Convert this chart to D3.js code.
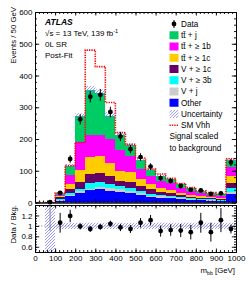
<!DOCTYPE html>
<html><head><meta charset="utf-8">
<script src="https://cdn.jsdelivr.net/npm/d3@7"></script>
<style>
html,body{margin:0;padding:0;background:#fff;}
svg{display:block;font-family:"Liberation Sans",Arial,Helvetica,sans-serif;}
</style></head>
<body>
<svg id="c" width="249" height="281"></svg>
<script>
// ---- data ----
const binLo = [0,50,100,150,200,250,300,350,400,450,500,550,600,650,700,750,800,850,900,950];
const binWidth = 50;
const other = [0,0.3,6,20,30,38,41,36,33,29,24,18,15,13,10,8,7,6,5,27];
const vj    = [0,0.1,2,4,5,6,7,9,8,7,6,4,4,3,3,2,2,2,1,6];
const v3b   = [0,0.1,4,7,8,18,18,14,11,10,7,6,5,5,4,3,2,2,2,12];
const v1c   = [0,0.1,4,13,21,28,27,26,17,18,15,14,10,8,6,5,4,3,3,17];
const tt1c  = [0,0.1,4,14,37,52,52,39,29,31,21,15,11,9,7,6,4,3,3,20];
const tt1b  = [0,0.2,5,30,89,70,69,77,66,52,31,25,23,22,16,12,10,9,7,30];
const ttj   = [0,0.3,5,28,82,143,130,73,50,33,31,20,17,14,11,9,7,6,5,22];
const bkgUnc = [0,1,2,5,9,12,12,10,7,6,5,4,3.5,3,2.5,2,1.6,1.4,1.2,5];
const dataVals = [null,1,30,137,262,333,339,285,208,168,143,113,77,68,52,40,38,27,29,126];
const dataErr  = [null,1,5.5,11.7,16.2,18.2,18.4,16.9,14.4,13,12,10.6,8.8,8.2,7.2,6.3,6.2,5.2,5.4,11.2];
const signal   = [0,0,30,116,189,480,428,315,220,183,140,105,90,76,60,47,37,31,26,138];
const ratio    = [null,3.0,1.06,1.19,0.99,0.94,0.98,1.04,0.97,0.94,1.06,1.11,0.90,0.92,0.91,0.88,1.06,0.88,1.11,0.94];
const ratioErr = [null,2.1,0.19,0.12,0.06,0.055,0.055,0.06,0.07,0.075,0.09,0.1,0.105,0.11,0.125,0.14,0.19,0.18,0.23,0.085];
const ratioUnc = [0,1.0,0.06,0.06,0.06,0.06,0.06,0.06,0.06,0.06,0.06,0.06,0.06,0.06,0.06,0.06,0.06,0.06,0.06,0.06];

const seriesKeys  = ["other","vj","v3b","v1c","tt1c","tt1b","ttj"];
const seriesVals  = {other, vj, v3b, v1c, tt1c, tt1b, ttj};
const seriesColor = {other:"#0000ff", vj:"#cccccc", v3b:"#00ffff", v1c:"#660066", tt1c:"#ffcc00", tt1b:"#ff00ff", ttj:"#00cc66"};
const legendRows = [
  {type:"data", label:"Data"},
  {type:"fill", key:"ttj",  label:"tt\u0304 + j"},
  {type:"fill", key:"tt1b", label:"tt\u0304 + \u2265 1b"},
  {type:"fill", key:"tt1c", label:"tt\u0304 + \u2265 1c"},
  {type:"fill", key:"v1c",  label:"V + \u2265 1c"},
  {type:"fill", key:"v3b",  label:"V + \u2265 3b"},
  {type:"fill", key:"vj",   label:"V + j"},
  {type:"fill", key:"other",label:"Other"},
  {type:"hatch", label:"Uncertainty"},
  {type:"sig", label:"SM Vhh"}
];
const yTicksMain = [0,100,200,300,400,500,600];
const yTicksRatio = [0.6,0.8,1,1.2];
const xTicks = [0,100,200,300,400,500,600,700,800,900,1000];

// ---- layout ----
const svg = d3.select("#c");
const X0 = 35, X1 = 236;
const x  = d3.scaleLinear([0,1000],[X0,X1]);
const y  = d3.scaleLinear([0,600],[202.5,12]);
const yr = d3.scaleLinear([0.5,1.4],[252,205]);

const defs = svg.append("defs");
const pat = defs.append("pattern").attr("id","hatch").attr("patternUnits","userSpaceOnUse")
  .attr("width",3).attr("height",3);
pat.append("path").attr("d","M-1,1 L1,-1 M0,3 L3,0 M2,4 L4,2")
  .attr("stroke","#6f6fff").attr("stroke-width",0.7);
defs.append("clipPath").attr("id","clipMain").append("rect")
  .attr("x",X0).attr("y",12).attr("width",X1-X0).attr("height",202.5-12);
defs.append("clipPath").attr("id","clipRatio").append("rect")
  .attr("x",X0).attr("y",205).attr("width",X1-X0).attr("height",252-205);

// ---- stack ----
const rows = binLo.map((lo,i)=>{const o={lo}; seriesKeys.forEach(k=>o[k]=seriesVals[k][i]); return o;});
const stacked = d3.stack().keys(seriesKeys)(rows);
const gMain = svg.append("g").attr("clip-path","url(#clipMain)");
stacked.forEach(layer=>{
  gMain.append("g").attr("fill",seriesColor[layer.key]).selectAll("rect").data(layer).join("rect")
    .attr("shape-rendering","crispEdges")
    .attr("x",d=>x(d.data.lo)).attr("width",d=>x(d.data.lo+binWidth)-x(d.data.lo))
    .attr("y",d=>y(d[1])).attr("height",d=>Math.max(0,y(d[0])-y(d[1])));
});
// uncertainty hatch on total
const totals = binLo.map((_,i)=>d3.sum(seriesKeys,k=>seriesVals[k][i]));
gMain.append("g").selectAll("rect").data(binLo).join("rect")
  .attr("x",d=>x(d)).attr("width",d=>x(d+binWidth)-x(d))
  .attr("y",(d,i)=>y(totals[i]+bkgUnc[i]))
  .attr("height",(d,i)=>Math.max(0,y(Math.max(0,totals[i]-bkgUnc[i]))-y(totals[i]+bkgUnc[i])))
  .attr("fill","url(#hatch)");
// signal step line
const sigPts = binLo.map((lo,i)=>[lo,signal[i]]).concat([[1000,signal[signal.length-1]]]);
gMain.append("path").datum(sigPts)
  .attr("d",d3.line().x(d=>x(d[0])).y(d=>y(d[1])).curve(d3.curveStepAfter))
  .attr("fill","none").attr("stroke","#ff0000").attr("stroke-width",1.6).attr("stroke-dasharray","1.3,1.1");
// data
const dpts = binLo.map((lo,i)=>({c:lo+binWidth/2,v:dataVals[i],e:dataErr[i]})).filter(d=>d.v!==null);
gMain.append("g").selectAll("line").data(dpts).join("line")
  .attr("x1",d=>x(d.c)).attr("x2",d=>x(d.c)).attr("y1",d=>y(d.v+d.e)).attr("y2",d=>y(Math.max(0,d.v-d.e)))
  .attr("stroke","#000").attr("stroke-width",1);
svg.append("g").selectAll("circle").data(dpts).join("circle")
  .attr("cx",d=>x(d.c)).attr("cy",d=>y(d.v)).attr("r",2.4).attr("fill","#000");

// ---- ratio panel ----
const gR = svg.append("g").attr("clip-path","url(#clipRatio)");
gR.append("g").selectAll("rect").data(binLo).join("rect")
  .attr("x",d=>x(d)).attr("width",d=>x(d+binWidth)-x(d))
  .attr("y",(d,i)=>yr(1+ratioUnc[i])).attr("height",(d,i)=>yr(1-ratioUnc[i])-yr(1+ratioUnc[i]))
  .attr("fill","url(#hatch)");
gR.append("line").attr("x1",X0).attr("x2",X1).attr("y1",yr(1)).attr("y2",yr(1))
  .attr("stroke","#888").attr("stroke-width",0.8).attr("stroke-dasharray","1.5,1.5");
const rpts = binLo.map((lo,i)=>({c:lo+binWidth/2,v:ratio[i],e:ratioErr[i]})).filter(d=>d.v!==null);
const inRange = d=>d.v>=0.5&&d.v<=1.4;
gR.append("g").selectAll("line").data(rpts).join("line")
  .attr("x1",d=>x(d.c)).attr("x2",d=>x(d.c)).attr("y1",d=>yr(d.v+d.e)).attr("y2",d=>yr(d.v-d.e))
  .attr("stroke",d=>inRange(d)?"#000":"#888").attr("stroke-width",1);
gR.append("g").selectAll("circle").data(rpts.filter(inRange)).join("circle")
  .attr("cx",d=>x(d.c)).attr("cy",d=>yr(d.v)).attr("r",2.4).attr("fill","#000");

// ---- axes ----
function fmtR(v){return d3.format("~g")(v);}
function axesFor(ys, yTop, yBot, majorY, minorY, fmtY, showXLabels){
  const mj=3.5, mn=2;
  const xMinor = d3.range(0,1001,20);
  svg.append("g").attr("transform",`translate(0,${yBot})`)
    .call(d3.axisBottom(x).tickValues(xTicks).tickSizeInner(-mj).tickSizeOuter(0).tickPadding(3)
      .tickFormat(showXLabels?d3.format("d"):()=>""));
  svg.append("g").attr("transform",`translate(0,${yBot})`)
    .call(d3.axisBottom(x).tickValues(xMinor).tickSizeInner(-mn).tickSizeOuter(0).tickFormat(()=>""));
  svg.append("g").attr("transform",`translate(0,${yTop})`)
    .call(d3.axisTop(x).tickValues(xTicks).tickSizeInner(-mj).tickSizeOuter(0).tickFormat(()=>""));
  svg.append("g").attr("transform",`translate(0,${yTop})`)
    .call(d3.axisTop(x).tickValues(xMinor).tickSizeInner(-mn).tickSizeOuter(0).tickFormat(()=>""));
  svg.append("g").attr("transform",`translate(${X0},0)`)
    .call(d3.axisLeft(ys).tickValues(majorY).tickSizeInner(-mj*1.2).tickSizeOuter(0).tickPadding(2.5).tickFormat(fmtY));
  svg.append("g").attr("transform",`translate(${X0},0)`)
    .call(d3.axisLeft(ys).tickValues(minorY).tickSizeInner(-mn).tickSizeOuter(0).tickFormat(()=>""));
  svg.append("g").attr("transform",`translate(${X1},0)`)
    .call(d3.axisRight(ys).tickValues(majorY).tickSizeInner(-mj*1.2).tickSizeOuter(0).tickFormat(()=>""));
  svg.append("g").attr("transform",`translate(${X1},0)`)
    .call(d3.axisRight(ys).tickValues(minorY).tickSizeInner(-mn).tickSizeOuter(0).tickFormat(()=>""));
}
axesFor(y,12,202.5,yTicksMain,d3.range(0,601,20),d3.format("d"),false);
axesFor(yr,205,252,yTicksRatio,d3.range(0.5,1.401,0.05).map(v=>+v.toFixed(2)),fmtR,true);
svg.selectAll(".tick text").attr("font-size",8).attr("font-family","'Liberation Sans',Arial,sans-serif").attr("fill","#000");
svg.selectAll(".domain,.tick line").attr("stroke","#000").attr("stroke-width",0.9);

// ---- titles ----
svg.append("text").attr("transform","translate(15.5,7) rotate(-90)").attr("text-anchor","end")
  .attr("font-size",7.8).text("Events / 50 GeV");
svg.append("text").attr("transform","translate(15.5,205) rotate(-90)").attr("text-anchor","end")
  .attr("font-size",7.8).text("Data / Bkg.");
const xt = svg.append("text").attr("x",235).attr("y",273).attr("text-anchor","end").attr("font-size",7.8);
xt.append("tspan").text("m");
xt.append("tspan").attr("dy",1.8).attr("font-size",5.2).text("bb");
xt.append("tspan").attr("dy",-1.8).text(" [GeV]");

// ATLAS label
svg.append("text").attr("x",45).attr("y",24.5).attr("font-size",8.5).attr("font-weight","bold").attr("font-style","italic").text("ATLAS");
const t2 = svg.append("text").attr("x",45).attr("y",36).attr("font-size",8);
t2.append("tspan").text("\u221As = 13 TeV, 139 fb");
t2.append("tspan").attr("dy",-3).attr("font-size",5.5).text("-1");
svg.append("text").attr("x",45).attr("y",47).attr("font-size",8).text("0L SR");
svg.append("text").attr("x",45).attr("y",58).attr("font-size",8).text("Post-Fit");

// ---- legend ----
const lg = svg.append("g");
const lx = 169.5, ly0 = 24, ldy = 11.25;
legendRows.forEach((r,i)=>{
  const cy = ly0 + i*ldy;
  if(r.type==="data"){
    lg.append("line").attr("x1",lx+4.5).attr("x2",lx+4.5).attr("y1",cy-4).attr("y2",cy+4).attr("stroke","#000");
    lg.append("circle").attr("cx",lx+4.5).attr("cy",cy).attr("r",2.4).attr("fill","#000");
  } else if(r.type==="fill"){
    lg.append("rect").attr("x",lx).attr("y",cy-4).attr("width",9).attr("height",8).attr("fill",seriesColor[r.key]);
  } else if(r.type==="hatch"){
    lg.append("rect").attr("x",lx).attr("y",cy-4).attr("width",9).attr("height",8).attr("fill","url(#hatch)");
  } else if(r.type==="sig"){
    lg.append("line").attr("x1",lx).attr("x2",lx+9).attr("y1",cy).attr("y2",cy)
      .attr("stroke","#ff0000").attr("stroke-width",1.6).attr("stroke-dasharray","1.3,1.1");
  }
  lg.append("text").attr("x",lx+11.5).attr("y",cy+2.9).attr("font-size",8.2).text(r.label);
});
lg.append("text").attr("x",lx).attr("y",ly0+10*ldy+2.9).attr("font-size",8.2).text("Signal scaled");
lg.append("text").attr("x",lx).attr("y",ly0+11*ldy+2.9).attr("font-size",8.2).text("to background");
</script>
</body></html>
